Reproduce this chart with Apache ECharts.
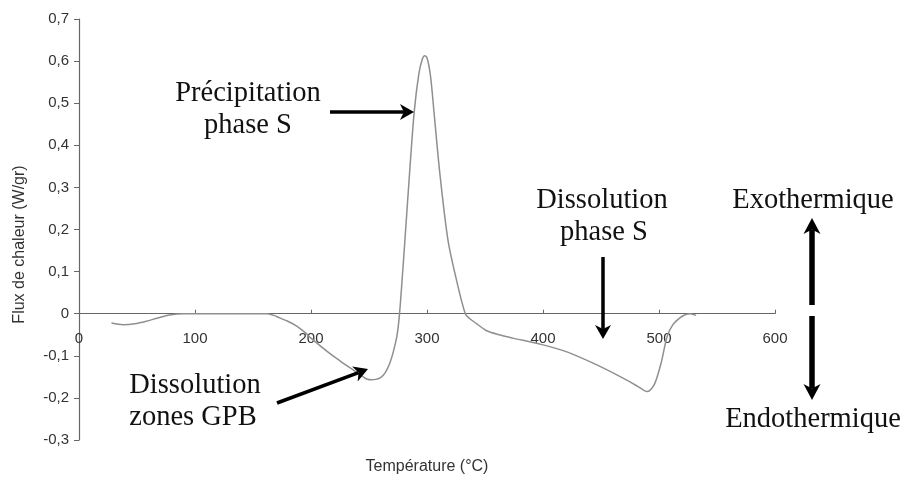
<!DOCTYPE html>
<html>
<head>
<meta charset="utf-8">
<script src="https://cdn.jsdelivr.net/npm/echarts@6/dist/echarts.min.js"></script>
<style>html,body{margin:0;padding:0;background:#fff;}#c{width:905px;height:481px;}</style>
</head>
<body>
<div id="c"></div>
<script>
// Temperature (°C)
const temperature = [28, 38, 48, 58, 68, 78, 90, 100, 120, 140, 162, 168, 173, 180, 188, 195, 200, 215, 225, 236, 244, 248, 252, 256, 260, 264, 268, 271, 274, 276, 278, 281, 285, 289, 293, 296, 298, 300, 303, 306, 311, 318, 325, 333, 337, 343, 351, 362, 374, 397, 420, 446, 469, 480, 487, 490, 496, 502, 507, 512, 518, 523, 527, 532];
// Heat flux (W/gr)
const heatFlux = [-0.022, -0.026, -0.024, -0.018, -0.010, -0.003, 0.000, 0.000, 0.000, 0.000, 0.000, -0.004, -0.010, -0.018, -0.030, -0.045, -0.058, -0.092, -0.112, -0.133, -0.148, -0.155, -0.157, -0.156, -0.152, -0.140, -0.117, -0.090, -0.054, -0.010, 0.060, 0.176, 0.335, 0.480, 0.570, 0.605, 0.613, 0.608, 0.565, 0.480, 0.335, 0.176, 0.085, 0.000, -0.012, -0.024, -0.040, -0.050, -0.058, -0.072, -0.090, -0.121, -0.153, -0.170, -0.182, -0.185, -0.168, -0.115, -0.054, -0.026, -0.010, -0.002, 0.000, -0.004];
const xTicks = [0, 100, 200, 300, 400, 500, 600];
const yTicks = [-0.3, -0.2, -0.1, 0, 0.1, 0.2, 0.3, 0.4, 0.5, 0.6, 0.7];

const annotations = [
  {text: 'Précipitation', x: 248, y: 94},
  {text: 'phase S', x: 248, y: 126},
  {text: 'Dissolution', x: 602, y: 201},
  {text: 'phase S', x: 604, y: 233},
  {text: 'Exothermique', x: 813, y: 201},
  {text: 'Endothermique', x: 813, y: 420},
  {text: 'Dissolution', x: 195, y: 386},
  {text: 'zones GPB', x: 193, y: 418}
];

function arrow(x1, y1, x2, y2, w, len, half) {
  const dx = x2 - x1, dy = y2 - y1, L = Math.hypot(dx, dy);
  const ux = dx / L, uy = dy / L, px = -uy, py = ux;
  const bx = x2 - ux * len, by = y2 - uy * len;
  const nx = x2 - ux * len * 0.72, ny = y2 - uy * len * 0.72;
  return [
    {type: 'line', shape: {x1: x1, y1: y1, x2: nx, y2: ny}, style: {stroke: '#000', lineWidth: w}, z: 100},
    {type: 'polygon', shape: {points: [[x2, y2], [bx + px * half, by + py * half], [nx, ny], [bx - px * half, by - py * half]]}, style: {fill: '#000'}, z: 100}
  ];
}

const graphics = [];
annotations.forEach(a => graphics.push({
  type: 'text', x: a.x, y: a.y, z: 100,
  style: {text: a.text, fill: '#111', font: '28.5px "Liberation Serif"', align: 'center', verticalAlign: 'middle'}
}));
graphics.push(...arrow(330, 112, 414, 112, 3.5, 14, 8));
graphics.push(...arrow(603, 257, 603, 339, 3.5, 14, 8));
graphics.push(...arrow(277, 403, 368, 369, 3.5, 14, 8));
graphics.push(...arrow(812, 305, 812, 218, 5.5, 16, 8.5));
graphics.push(...arrow(812, 316, 812, 400, 5.5, 16, 8.5));

const gridTop = 19, gridBottom = 41, H = 481;
const yMin = yTicks[0], yMax = yTicks[yTicks.length - 1];
const plotH = H - gridTop - gridBottom;
// shift the x axis (line, ticks, labels, title) up to the y = 0 level
const zeroOffset = -plotH * (0 - yMin) / (yMax - yMin);

const chart = echarts.init(document.getElementById('c'), null, {renderer: 'canvas'});
chart.setOption({
  animation: false,
  backgroundColor: '#fff',
  grid: {left: 79, right: 130, top: gridTop, bottom: gridBottom, containLabel: false, outerBoundsMode: 'none'},
  xAxis: {
    type: 'value', min: xTicks[0], max: xTicks[xTicks.length - 1], interval: 100,
    position: 'bottom', offset: zeroOffset,
    name: 'Température (°C)', nameLocation: 'middle', nameGap: 145,
    nameTextStyle: {fontFamily: 'Liberation Sans', fontSize: 16, color: '#333'},
    axisLine: {onZero: false, lineStyle: {color: '#666', width: 1.2}},
    axisTick: {inside: true, length: 4, lineStyle: {color: '#666'}},
    axisLabel: {margin: 18, fontFamily: 'Liberation Sans', fontSize: 15, color: '#333'},
    splitLine: {show: false}
  },
  yAxis: {
    type: 'value', min: yMin, max: yMax, interval: 0.1,
    name: 'Flux de chaleur (W/gr)', nameLocation: 'middle', nameRotate: 90, nameGap: 51,
    nameTextStyle: {fontFamily: 'Liberation Sans', fontSize: 16, color: '#333', padding: [0, 30, 0, 0]},
    axisLine: {show: true, onZero: false, lineStyle: {color: '#666', width: 1.2}},
    axisTick: {show: true, inside: false, length: 5, lineStyle: {color: '#666'}},
    axisLabel: {
      margin: 10, fontFamily: 'Liberation Sans', fontSize: 15, color: '#333',
      formatter: v => Math.abs(v) < 1e-9 ? '0' : v.toFixed(1).replace('.', ',')
    },
    splitLine: {show: false}
  },
  series: [{
    type: 'line',
    data: temperature.map((t, i) => [t, heatFlux[i]]),
    smooth: 0.3,
    showSymbol: false,
    lineStyle: {color: '#8f8f8f', width: 1.5},
    z: 3
  }],
  graphic: graphics
});
</script>
</body>
</html>
